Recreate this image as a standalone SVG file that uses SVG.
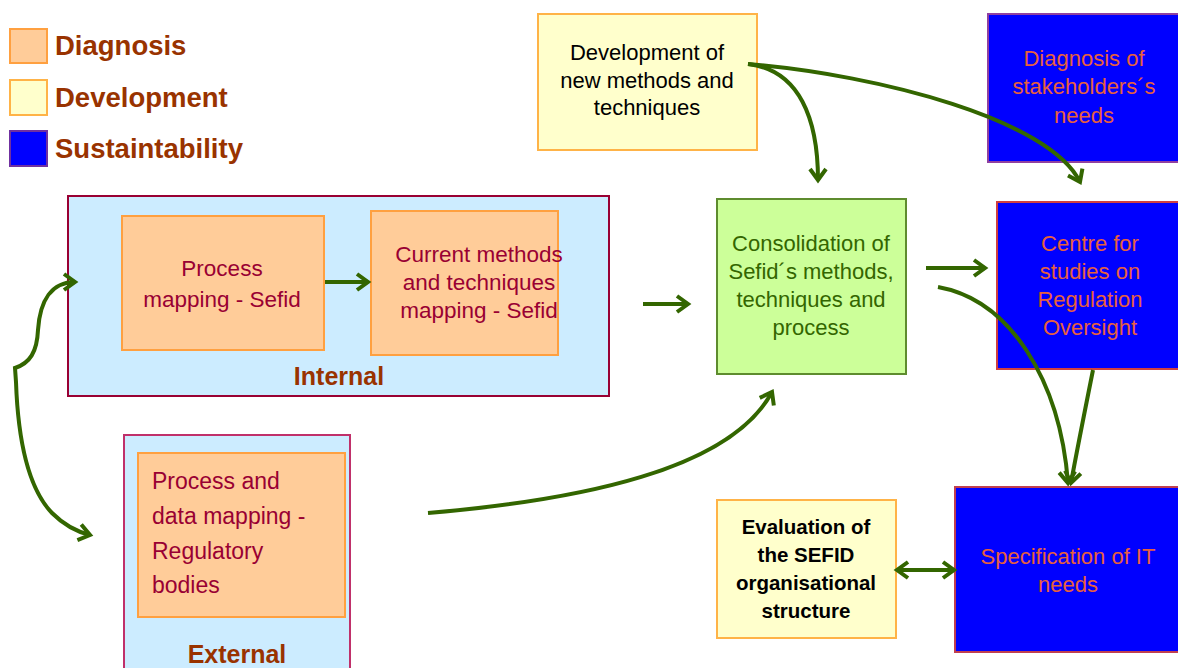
<svg xmlns="http://www.w3.org/2000/svg" width="1178" height="668" viewBox="0 0 1178 668">
<style>
text{font-family:"Liberation Sans",Arial,sans-serif}
.leg{font-size:27.5px;font-weight:bold;fill:#993300}
.grp{font-size:25px;font-weight:bold;fill:#993300;text-anchor:middle}
.diag{fill:#FFCC99;stroke:#FFA040;stroke-width:2}
.dev{fill:#FFFFCC;stroke:#FFB347;stroke-width:2}
.cont{fill:#CCECFF;stroke:#990033;stroke-width:2}
.dt{font-size:22.5px;fill:#990033;text-anchor:middle}
.vt{font-size:22px;fill:#000;text-anchor:middle}
.st{font-size:22px;fill:#E8603C;text-anchor:middle}
.ct{font-size:22px;fill:#336600;text-anchor:middle}
.et{font-size:20.5px;font-weight:bold;fill:#000;text-anchor:middle}
.con{fill:none;stroke:#336600;stroke-width:4}
</style>
<defs>
<marker id="ah" markerUnits="userSpaceOnUse" markerWidth="20" markerHeight="24" refX="13" refY="10" orient="auto-start-reverse" viewBox="0 0 20 20">
<path d="M2,2 L13,10 L2,18" fill="none" stroke="#336600" stroke-width="4" stroke-linejoin="miter"/>
</marker>
</defs>

<g id="legend">
<rect x="10" y="29" width="37" height="34" class="diag"/>
<text x="55" y="55" class="leg">Diagnosis</text>
<rect x="10" y="80" width="37" height="35" class="dev"/>
<text x="55" y="107" class="leg">Development</text>
<rect x="10" y="131" width="37" height="35" fill="#0000FF" stroke="#7030A0" stroke-width="2"/>
<text x="55" y="158" class="leg">Sustaintability</text>
</g>

<g id="internal">
<rect x="68" y="196" width="541" height="200" class="cont"/>
<text x="339" y="385" class="grp">Internal</text>
</g>
<g id="process-mapping">
<rect x="122" y="216" width="202" height="134" class="diag"/>
<text class="dt"><tspan x="222" y="276">Process</tspan><tspan x="222" y="307">mapping - Sefid</tspan></text>
</g>
<g id="current-methods">
<rect x="371" y="211" width="187" height="144" class="diag"/>
<text class="dt"><tspan x="479" y="262">Current methods</tspan><tspan x="479" y="290">and techniques</tspan><tspan x="479" y="318">mapping - Sefid</tspan></text>
</g>

<g id="external">
<rect x="124" y="435" width="226" height="240" fill="#CCECFF" stroke="#C0306A" stroke-width="2"/>
<text x="237" y="663" class="grp">External</text>
</g>
<g id="process-data-mapping">
<rect x="138" y="453" width="207" height="164" class="diag"/>
<text font-size="23" fill="#990033"><tspan x="152" y="489">Process and</tspan><tspan x="152" y="524">data mapping -</tspan><tspan x="152" y="559">Regulatory</tspan><tspan x="152" y="593">bodies</tspan></text>
</g>

<g id="development-new">
<rect x="538" y="14" width="219" height="136" class="dev"/>
<text class="vt"><tspan x="647" y="60">Development of</tspan><tspan x="647" y="88">new methods and</tspan><tspan x="647" y="115">techniques</tspan></text>
</g>

<g id="diagnosis-stakeholders">
<rect x="988" y="14" width="195" height="148" fill="#0000FF" stroke="#9040A0" stroke-width="2"/>
<text class="st"><tspan x="1084" y="66">Diagnosis of</tspan><tspan x="1084" y="94">stakeholders´s</tspan><tspan x="1084" y="123">needs</tspan></text>
</g>

<g id="consolidation">
<rect x="717" y="199" width="189" height="175" fill="#CCFF99" stroke="#5E8C2E" stroke-width="2"/>
<text class="ct"><tspan x="811" y="251">Consolidation of</tspan><tspan x="811" y="279">Sefid´s methods,</tspan><tspan x="811" y="307">techniques and</tspan><tspan x="811" y="335">process</tspan></text>
</g>

<g id="centre-studies">
<rect x="997" y="202" width="186" height="167" fill="#0000FF" stroke="#D04040" stroke-width="2"/>
<text class="st"><tspan x="1090" y="251">Centre for</tspan><tspan x="1090" y="279">studies on</tspan><tspan x="1090" y="307">Regulation</tspan><tspan x="1090" y="335">Oversight</tspan></text>
</g>

<g id="specification-it">
<rect x="955" y="487" width="228" height="165" fill="#0000FF" stroke="#C04050" stroke-width="2"/>
<text class="st"><tspan x="1068" y="564">Specification of IT</tspan><tspan x="1068" y="592">needs</tspan></text>
</g>

<g id="evaluation">
<rect x="717" y="500" width="179" height="138" class="dev"/>
<text class="et"><tspan x="806" y="534">Evaluation of</tspan><tspan x="806" y="562">the SEFID</tspan><tspan x="806" y="590">organisational</tspan><tspan x="806" y="618">structure</tspan></text>
</g>

<g id="connectors">
<path class="con" d="M325,282 L368,282" marker-end="url(#ah)"/>
<path class="con" d="M643,304 L688,304" marker-end="url(#ah)"/>
<path class="con" d="M926,268 L985,268" marker-end="url(#ah)"/>
<path class="con" d="M748,64 C800,70 818,120 818,180" marker-end="url(#ah)"/>
<path class="con" d="M748,64 C880,75 1050,120 1080,182" marker-end="url(#ah)"/>
<path class="con" d="M938,287 C1010,300 1060,380 1068,483" marker-end="url(#ah)"/>
<path class="con" d="M1093,370 C1085,410 1077,450 1071,483" marker-end="url(#ah)"/>
<path class="con" d="M428,513 C580,500 730,470 772,392" marker-end="url(#ah)"/>
<path class="con" d="M897,570 L954,570" marker-start="url(#ah)" marker-end="url(#ah)"/>
<path class="con" d="M75,282 C52,282 40,300 38,330 C37,352 30,363 15,368 L16,382 C18,440 28,488 52,513 C65,526 78,532 90,535" marker-start="url(#ah)" marker-end="url(#ah)"/>
</g>
</svg>
